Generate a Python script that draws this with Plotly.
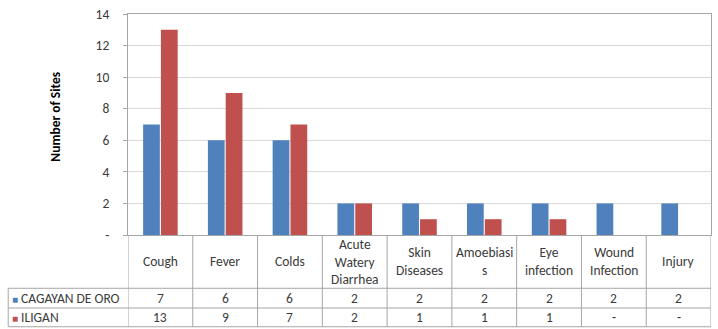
import plotly.graph_objects as go

categories = ["Cough", "Fever", "Colds", "Acute<br>Watery<br>Diarrhea", "Skin<br>Diseases",
              "Amoebiasi<br>s", "Eye<br>infection", "Wound<br>Infection", "Injury"]
series_names = ["CAGAYAN DE ORO", "ILIGAN"]
cdo_values = [7, 6, 6, 2, 2, 2, 2, 2, 2]
iligan_values = [13, 9, 7, 2, 1, 1, 1, None, None]
y_tickvals = [0, 2, 4, 6, 8, 10, 12, 14]
y_ticktext = ["-", "2", "4", "6", "8", "10", "12", "14"]
y_title = "Number of Sites"

colors = ["#4F81BD", "#C0504D"]
FONT = "Carlito, Lato, sans-serif"
TXT = "#3a3a3a"
LINE = "#a6a6a6"

x_idx = list(range(len(categories)))
fig = go.Figure()
for name, vals, col in zip(series_names, [cdo_values, iligan_values], colors):
    fig.add_trace(go.Bar(x=x_idx, y=vals, name=name, marker=dict(color=col, line=dict(width=0)),
                         showlegend=False))

W, H = 718, 329
L, R, T = 128, 6, 11
ph = 224
B = H - T - ph
pw = W - L - R

def py(px):
    return (T + ph - px) / ph

def pxx(px):
    return (px - L) / pw

y_head = py(289)
y_r1 = py(309)
y_r2 = py(328)
x_left = pxx(8)

shapes = []
for i in range(len(categories) + 1):
    shapes.append(dict(type="line", xref="x", yref="paper", x0=i - 0.5, x1=i - 0.5,
                       y0=0, y1=y_r2, line=dict(color=LINE, width=1)))
shapes.append(dict(type="line", xref="paper", yref="paper", x0=x_left, x1=x_left,
                   y0=y_head, y1=y_r2, line=dict(color=LINE, width=1)))
for yy in [y_head, y_r1, y_r2]:
    shapes.append(dict(type="line", xref="paper", yref="paper", x0=x_left, x1=1,
                       y0=yy, y1=yy, line=dict(color=LINE, width=1)))

FS = 13.5
annotations = []
for i, c in enumerate(categories):
    annotations.append(dict(x=i, y=(0 + y_head) / 2, xref="x", yref="paper", text=c,
                            showarrow=False, font=dict(family=FONT, size=FS, color=TXT),
                            xanchor="center", yanchor="middle"))
row_centers = [(y_head + y_r1) / 2, (y_r1 + y_r2) / 2]
for vals, yc, name, col in zip([cdo_values, iligan_values], row_centers, series_names, colors):
    for i, v in enumerate(vals):
        annotations.append(dict(x=i, y=yc, xref="x", yref="paper",
                                text="-" if v is None else str(v), showarrow=False,
                                font=dict(family=FONT, size=FS, color=TXT),
                                xanchor="center", yanchor="middle"))
    annotations.append(dict(x=pxx(10), y=yc, xref="paper", yref="paper",
                            text=f'<span style="color:{col};font-size:10px">■</span> {name}',
                            showarrow=False,
                            font=dict(family=FONT, size=FS, color=TXT),
                            xanchor="left", yanchor="middle"))
annotations.append(dict(x=pxx(55), y=py(115), xref="paper", yref="paper", text=f"<b>{y_title}</b>",
                        textangle=-90, showarrow=False, font=dict(family=FONT, size=13.5, color="#000000"),
                        xanchor="center", yanchor="middle"))

fig.update_layout(
    width=W, height=H, autosize=False,
    margin=dict(l=L, r=R, t=T, b=B, pad=0),
    paper_bgcolor="white", plot_bgcolor="white",
    barmode="group", bargap=0.45, bargroupgap=0.06,
    shapes=shapes, annotations=annotations,
    xaxis=dict(range=[-0.5, len(categories) - 0.5], showticklabels=False, showgrid=False,
               zeroline=False, showline=True, linecolor=LINE, linewidth=1, mirror=True,
               ticks="", fixedrange=True),
    yaxis=dict(range=[0, 14], tickvals=y_tickvals, ticktext=y_ticktext, showgrid=True,
               gridcolor="#d9d9d9", gridwidth=1, zeroline=False, showline=True, linecolor=LINE,
               linewidth=1, mirror=True, ticks="outside", ticklen=4, tickcolor=LINE,
               ticklabelstandoff=11, ticklabeloverflow="allow",
               tickfont=dict(family=FONT, size=13.5, color=TXT)),
)

fig.write_html("out.html", config={"displayModeBar": False},
               post_script="document.body.style.margin='0px';")
